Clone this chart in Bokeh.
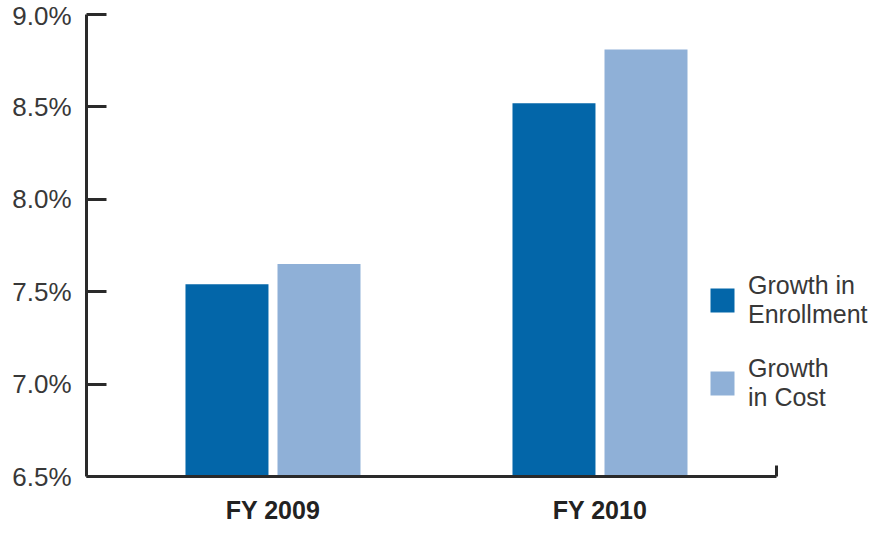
from bokeh.plotting import figure
from bokeh.models import (ColumnDataSource, Range1d, LinearAxis, FixedTicker,
                          Legend, LegendItem)
from bokeh.transform import dodge
from bokeh.embed import file_html
from bokeh.resources import INLINE

# ---- data ----
categories = ["FY 2009", "FY 2010"]
enrollment = [7.54, 8.52]
cost = [7.65, 8.81]
y_ticks = [6.5, 7.0, 7.5, 8.0, 8.5, 9.0]
series_names = ["Growth in\nEnrollment", "Growth\nin Cost"]

C_ENR = "#0366A9"
C_COST = "#8FB0D7"
AXIS_C = "#2a2a2a"
TXT_C = "#383838"
FONT = "Liberation Sans"

idx = list(range(len(categories)))
src = ColumnDataSource(dict(x=idx, enr=enrollment, cost=cost,
                            base=[y_ticks[0]] * len(idx)))

x_start, x_axis_end, x_end = -0.5703, 1.5398, 1.8303
y_end = 9.0758
p = figure(width=871, height=526, output_backend="svg", toolbar_location=None,
           x_range=Range1d(x_start, x_end), y_range=Range1d(y_ticks[0], y_end),
           x_axis_location=None, y_axis_location=None,
           min_border_left=86, min_border_right=0, min_border_top=0,
           min_border_bottom=50, outline_line_color=None,
           background_fill_color="white", border_fill_color="white")
p.grid.visible = False

bw = 0.2538
off = 0.1407
r1 = p.vbar(x=dodge("x", -off, range=p.x_range), top="enr", bottom="base",
            width=bw, source=src, fill_color=C_ENR, line_color=None)
r2 = p.vbar(x=dodge("x", off, range=p.x_range), top="cost", bottom="base",
            width=bw, source=src, fill_color=C_COST, line_color=None)

# y axis with inward ticks
yax = LinearAxis(ticker=FixedTicker(ticks=y_ticks), bounds=(y_ticks[0], y_ticks[-1]),
                 major_tick_in=20, major_tick_out=0,
                 minor_tick_line_color=None, axis_line_width=3, axis_line_color=AXIS_C,
                 major_tick_line_width=3, major_tick_line_color=AXIS_C,
                 major_label_text_font=FONT, major_label_text_font_size="26px",
                 major_label_text_color=TXT_C, major_label_standoff=15,
                 major_label_overrides={t: f"{t:.1f}%" for t in y_ticks})
p.add_layout(yax, "left")

# x axis: category labels, axis line, small tick at right end (minor tick)
xax = LinearAxis(ticker=FixedTicker(ticks=idx, minor_ticks=[x_axis_end]),
                 bounds=(x_start, x_axis_end),
                 major_label_overrides={i: c for i, c in zip(idx, categories)},
                 axis_line_width=3, axis_line_color=AXIS_C,
                 major_tick_line_color=None, major_tick_in=0, major_tick_out=0,
                 minor_tick_in=11, minor_tick_out=0, minor_tick_line_width=3,
                 minor_tick_line_color=AXIS_C,
                 major_label_standoff=19, major_label_text_font=FONT,
                 major_label_text_font_size="25px", major_label_text_font_style="bold",
                 major_label_text_color="#222222")
p.add_layout(xax, "below")

legend = Legend(items=[LegendItem(label=series_names[0], renderers=[r1]),
                       LegendItem(label=series_names[1], renderers=[r2])],
                location=(621, 64), glyph_width=30, glyph_height=30,
                label_standoff=11, padding=0, margin=0, spacing=25,
                label_text_font=FONT, label_text_font_size="25px",
                label_text_line_height=1.25,
                label_text_color=TXT_C, border_line_color=None,
                background_fill_alpha=0)
p.add_layout(legend)

open("out.html", "w").write(file_html(p, INLINE))
